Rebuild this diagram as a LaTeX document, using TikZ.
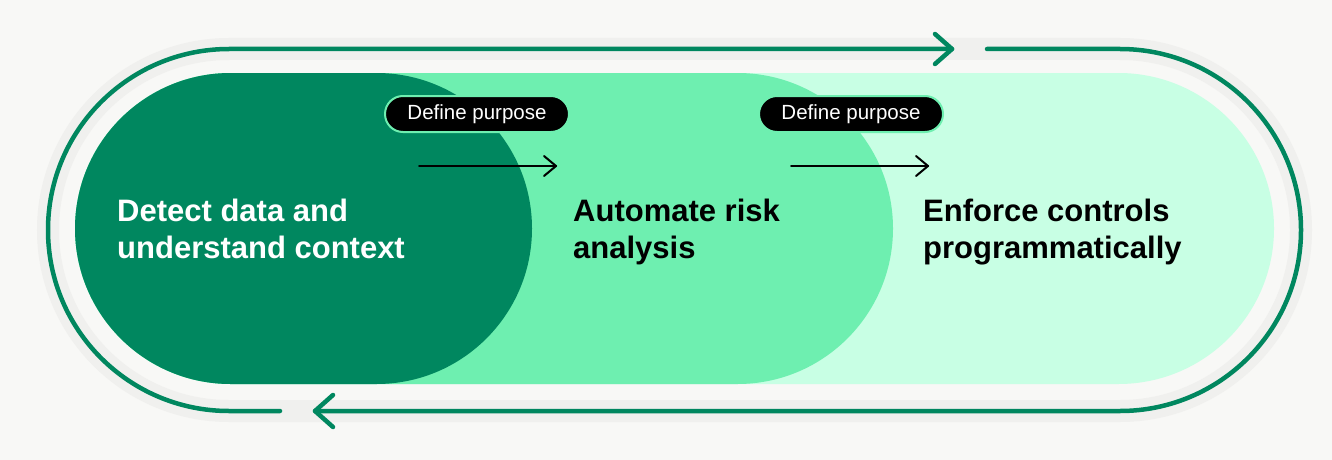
\documentclass[tikz,border=0pt]{standalone}
\usepackage{fontspec}
\setmainfont{Liberation Sans}
\definecolor{bg}{HTML}{F8F8F6}
\definecolor{band}{HTML}{F0F0EE}
\definecolor{dkgreen}{HTML}{00875F}
\definecolor{mdgreen}{HTML}{6EEFB0}
\definecolor{mint}{HTML}{C8FFE4}
\tikzset{
  loopline/.style={draw=dkgreen, line width=4.5pt, line cap=round, line join=round},
  blackarrow/.style={draw=black, line width=2pt, line cap=round, line join=round},
  tag/.style={fill=black, draw=mdgreen, line width=2pt, rounded corners=18pt,
    minimum width=184pt, minimum height=36pt, inner sep=0pt, text=white,
    font=\fontsize{20.5}{23}\selectfont},
  stage/.style={anchor=base west, align=left, inner sep=0pt,
    font=\fontsize{31}{37}\selectfont\bfseries},
}
\begin{document}
\begin{tikzpicture}[x=1pt, y=-1pt]
\useasboundingbox (0,0) rectangle (1332,460);
\fill[bg] (0,0) rectangle (1332,460);
% outer band
\draw[band, line width=22pt, rounded corners=181pt] (48,49) -- (1301,49) -- (1301,411) -- (48,411) -- cycle;
% pills
\fill[mint, rounded corners=155.5pt] (75,73) rectangle (1274,384);
\fill[mdgreen, rounded corners=155.5pt] (75,73) rectangle (893,384);
\fill[dkgreen, rounded corners=155.5pt] (75,73) rectangle (532,384);
% loop coordinates
\coordinate (topstart) at (987,49);
\coordinate (bottip) at (315,411);
\coordinate (botstart) at (280,411);
\coordinate (toptip) at (952,49);
\draw[loopline, rounded corners=181pt] (topstart) -- (1301,49) -- (1301,411) -- (bottip);
\draw[loopline, rounded corners=181pt] (botstart) -- (48,411) -- (48,49) -- (toptip);
\draw[loopline] (toptip) ++(-17,-15) -- (toptip) -- ++(-17,15);
\draw[loopline] (bottip) ++(18,-16) -- (bottip) -- ++(18,16);
% stage texts (anchor = baseline of last line)
\node[stage, text=white] (s1) at (117,258) {Detect data and\\understand context};
\node[stage, text=black] (s2) at (573,258) {Automate risk\\analysis};
\node[stage, text=black] (s3) at (923,258) {Enforce controls\\programmatically};
% tags
\node[tag] (t1) at (477,114) {Define purpose};
\node[tag] (t2) at (851,114) {Define purpose};
% arrows
\coordinate (a1s) at (419,166);
\coordinate (a1e) at (556,166);
\coordinate (a2s) at (791,166);
\coordinate (a2e) at (928,166);
\draw[blackarrow] (a1s) -- (a1e);
\draw[blackarrow] (a1e) ++(-12,-10) -- (a1e) -- ++(-12,10);
\draw[blackarrow] (a2s) -- (a2e);
\draw[blackarrow] (a2e) ++(-12,-10) -- (a2e) -- ++(-12,10);
\end{tikzpicture}
\end{document}
